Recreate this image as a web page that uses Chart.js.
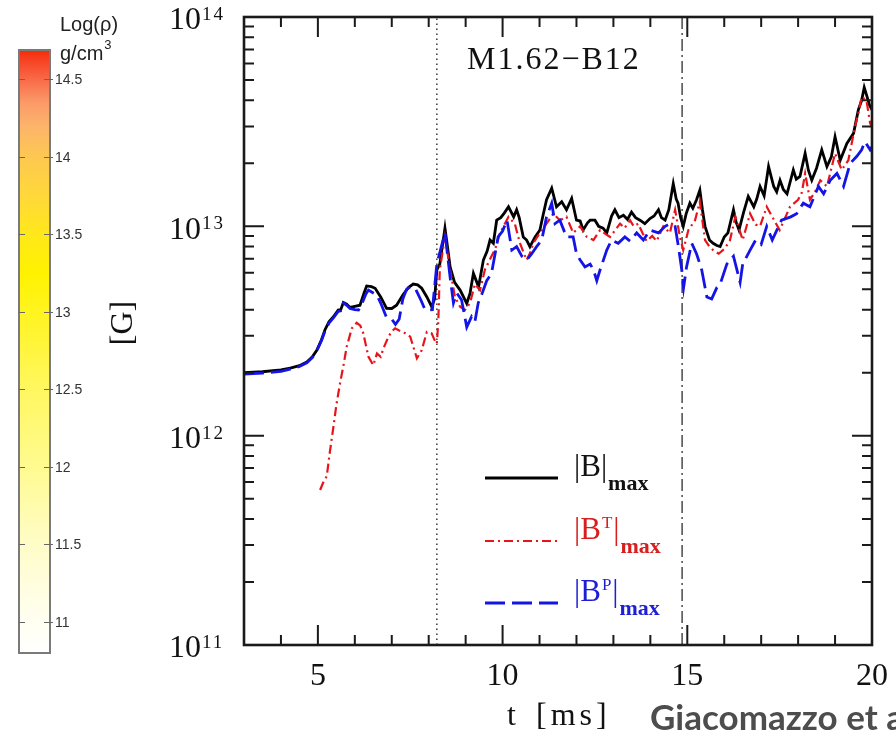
<!DOCTYPE html>
<html>
<head>
<meta charset="utf-8">
<title>M1.62-B12 magnetic field</title>
<script src="https://cdn.jsdelivr.net/npm/chart.js@4.4.1/dist/chart.umd.min.js"></script>
<style>
  html, body { margin: 0; padding: 0; background: #fff; }
  #wrap { position: relative; width: 896px; height: 746px; overflow: hidden; background: #fff; }
  #wrap canvas { position: absolute; left: 0; top: 0; }
</style>
</head>
<body>
<div id="wrap">
  <canvas id="fieldChart" width="896" height="746"></canvas>
  <canvas id="densityBar" width="160" height="746"></canvas>
</div>
<script>
// |B|max, time in ms, field in units of 1e12 G
const tB = [3.0, 3.5, 4.0, 4.25, 4.5, 4.7, 4.85, 4.97, 5.1, 5.19, 5.3, 5.42, 5.55, 5.62, 5.69, 5.78, 5.87, 6.0, 6.14, 6.25,
  6.32, 6.45, 6.55, 6.7, 6.86, 7.0, 7.13, 7.3, 7.45, 7.58, 7.7, 7.81, 7.95, 8.08, 8.16, 8.22, 8.3, 8.36, 8.44, 8.5,
  8.58, 8.7, 8.85, 9.03, 9.12, 9.21, 9.35, 9.48, 9.58, 9.66, 9.75, 9.84, 9.95, 10.05, 10.16, 10.3, 10.38, 10.45, 10.56, 10.65,
  10.74, 10.88, 11.01, 11.1, 11.19, 11.33, 11.46, 11.6, 11.73, 11.87, 12.0, 12.1, 12.18, 12.3, 12.37, 12.5, 12.6, 12.72, 12.82, 12.95,
  13.04, 13.15, 13.27, 13.38, 13.49, 13.6, 13.72, 13.85, 13.99, 14.1, 14.22, 14.3, 14.4, 14.5, 14.62, 14.7, 14.75, 14.82, 14.89, 14.97,
  15.07, 15.15, 15.25, 15.34, 15.41, 15.48, 15.6, 15.7, 15.8, 15.89, 16.0, 16.1, 16.25, 16.32, 16.4, 16.52, 16.65, 16.8, 16.88, 16.97,
  17.08, 17.2, 17.34, 17.42, 17.51, 17.6, 17.7, 17.87, 17.95, 18.05, 18.19, 18.28, 18.37, 18.5, 18.64, 18.78, 18.9, 19.0, 19.14, 19.32,
  19.5, 19.63, 19.72, 19.79, 19.86, 19.93, 20.0];
const bTot = [2.0, 2.02, 2.06, 2.1, 2.16, 2.25, 2.38, 2.56, 2.88, 3.2, 3.5, 3.7, 3.98, 4.0, 4.33, 4.25, 4.1, 4.15, 4.2, 4.8,
  5.19, 5.15, 5.06, 4.6, 4.06, 4.05, 4.2, 4.7, 5.1, 5.3, 5.25, 5.06, 4.6, 4.13, 4.5, 6.2, 6.6, 7.8, 9.8, 8.2,
  6.4, 5.4, 4.96, 4.28, 4.8, 5.96, 5.14, 6.9, 7.6, 8.6, 8.3, 10.7, 11.0, 11.6, 12.4, 11.1, 12.0, 11.0, 8.9, 8.6,
  8.0, 8.9, 9.6, 11.4, 13.4, 15.2, 12.4, 13.1, 12.0, 13.6, 10.7, 10.6, 9.6, 10.4, 10.7, 10.7, 10.0, 9.8, 9.3, 11.2,
  12.0, 11.0, 11.3, 10.8, 11.7, 11.0, 10.7, 10.3, 10.9, 11.2, 12.0, 11.0, 10.7, 12.0, 16.0, 13.5, 12.9, 11.0, 10.0, 11.5,
  12.9, 12.2, 13.4, 14.9, 12.0, 10.0, 8.6, 8.3, 8.1, 8.0, 8.9, 9.3, 12.0, 10.5, 9.6, 11.6, 13.9, 12.4, 13.5, 15.5,
  14.0, 19.3, 15.5, 14.6, 16.6, 15.0, 14.3, 18.6, 16.8, 17.3, 22.3, 18.5, 16.6, 19.0, 23.2, 19.3, 21.5, 26.8, 20.7, 24.9,
  27.8, 36, 40, 46.1, 42, 38, 36];

// |B^T|max (toroidal)
const tBT = [5.06, 5.15, 5.24, 5.33, 5.42, 5.5, 5.6, 5.7, 5.78, 5.92, 6.05, 6.15, 6.23, 6.3, 6.37, 6.5, 6.6, 6.7, 6.77, 6.91,
  7.0, 7.09, 7.2, 7.31, 7.5, 7.6, 7.68, 7.81, 7.95, 8.08, 8.18, 8.22, 8.26, 8.3, 8.44, 8.58, 8.71, 8.85, 8.98, 9.12,
  9.25, 9.39, 9.52, 9.7, 9.8, 9.93, 10.05, 10.16, 10.33, 10.47, 10.65, 10.75, 10.83, 11.01, 11.19, 11.37, 11.55, 11.73, 11.91, 12.1,
  12.28, 12.46, 12.64, 12.78, 12.91, 13.05, 13.18, 13.3, 13.45, 13.55, 13.67, 13.8, 13.9, 14.05, 14.17, 14.35, 14.53, 14.67, 14.8, 14.89,
  15.03, 15.21, 15.34, 15.48, 15.6, 15.7, 15.85, 16.0, 16.15, 16.3, 16.5, 16.7, 16.85, 16.97, 17.15, 17.3, 17.5, 17.65, 17.78, 18.0,
  18.1, 18.19, 18.32, 18.45, 18.6, 18.78, 19.0, 19.18, 19.36, 19.54, 19.65, 19.72, 19.85, 19.95, 20.0];
const bTor = [0.55, 0.6, 0.64, 0.85, 1.1, 1.4, 1.78, 2.2, 2.66, 3.26, 3.46, 3.35, 3.08, 2.7, 2.38, 2.17, 2.47, 2.38, 2.6, 2.97,
  3.15, 3.26, 3.18, 3.13, 2.97, 2.6, 2.34, 2.56, 3.13, 3.08, 2.8, 2.75, 3.5, 6.2, 8.9, 6.2, 4.6, 4.13, 3.98, 4.3,
  5.3, 4.96, 6.2, 7.2, 7.8, 9.3, 10.2, 11.1, 10.3, 8.3, 6.9, 7.5, 8.3, 9.3, 10.3, 11.5, 10.7, 11.1, 9.3, 10.0,
  8.9, 8.6, 9.6, 9.2, 8.9, 9.6, 10.3, 9.8, 10.7, 10.0, 10.3, 9.2, 8.5, 9.0, 8.5, 10.0, 9.3, 12.0, 8.9, 7.7,
  9.6, 10.7, 13.1, 8.6, 8.0, 7.7, 7.4, 7.8, 8.5, 11.1, 8.6, 11.5, 10.2, 10.0, 12.4, 11.1, 9.6, 11.0, 12.4, 13.4,
  14.5, 17.9, 13.4, 14.5, 16.6, 15.5, 22.3, 18.6, 20.7, 29.9, 36, 41.6, 40, 31, 30];

// |B^P|max (poloidal)
const tBP = [3.0, 3.5, 4.0, 4.25, 4.5, 4.7, 4.85, 4.97, 5.1, 5.19, 5.3, 5.42, 5.55, 5.62, 5.69, 5.78, 5.87, 6.0, 6.1, 6.2,
  6.3, 6.37, 6.5, 6.6, 6.7, 6.85, 7.0, 7.1, 7.2, 7.3, 7.4, 7.5, 7.65, 7.8, 7.9, 8.0, 8.1, 8.22, 8.3, 8.44,
  8.58, 8.67, 8.76, 8.89, 9.03, 9.16, 9.25, 9.34, 9.45, 9.57, 9.7, 9.88, 10.0, 10.12, 10.25, 10.38, 10.52, 10.65, 10.79, 10.92,
  11.06, 11.19, 11.33, 11.42, 11.55, 11.73, 11.91, 12.0, 12.1, 12.23, 12.37, 12.46, 12.55, 12.64, 12.82, 12.95, 13.13, 13.31, 13.45, 13.63,
  13.81, 13.99, 14.22, 14.4, 14.53, 14.67, 14.76, 14.85, 14.9, 14.98, 15.12, 15.25, 15.39, 15.53, 15.66, 15.8, 15.89, 16.07, 16.25, 16.43,
  16.5, 16.7, 16.85, 17.0, 17.15, 17.3, 17.55, 17.8, 17.96, 18.14, 18.32, 18.55, 18.69, 18.87, 19.05, 19.23, 19.41, 19.59, 19.72, 19.81,
  19.95, 20.0];
const bPol = [1.97, 1.99, 2.03, 2.08, 2.14, 2.23, 2.36, 2.54, 2.85, 3.15, 3.45, 3.65, 3.92, 3.95, 4.3, 4.2, 4.05, 4.0, 3.98, 4.3,
  4.75, 4.96, 4.8, 4.7, 4.3, 3.7, 3.6, 3.4, 3.6, 4.5, 5.0, 5.14, 5.0, 4.4, 4.0, 3.98, 4.0, 6.6, 7.5, 9.3,
  5.7, 4.3, 4.8, 4.45, 3.3, 3.7, 3.5, 4.3, 4.8, 5.5, 5.96, 8.9, 9.5, 10.7, 7.7, 8.0, 7.2, 6.9, 7.4, 8.0,
  8.6, 11.1, 12.9, 10.3, 10.7, 8.9, 8.9, 7.4, 6.9, 6.4, 6.6, 6.2, 5.5, 6.2, 7.7, 8.6, 8.3, 8.9, 8.5, 9.3,
  8.6, 9.6, 9.3, 10.0, 10.3, 10.0, 8.0, 6.2, 5.1, 6.4, 8.3, 7.4, 6.2, 4.6, 4.5, 5.1, 5.3, 6.6, 7.2, 5.4,
  6.6, 7.7, 8.6, 8.2, 10.0, 8.6, 10.7, 11.1, 11.5, 12.9, 12.4, 15.5, 14.3, 16.6, 17.9, 15.5, 20.0, 21.6, 23.2, 25.4,
  23.2, 24];

// vertical markers (ms)
const tMerge = 8.22;
const tCollapse = 14.86;

// axes
const tRange = [3, 20];
const xMajorTicks = [5, 10, 15, 20];
const yDecades = [11, 12, 13, 14];

// density colour bar, log10(rho) in g/cm^3
const rhoMin = 10.8;
const rhoMax = 14.69;
const rhoTicks = [11, 11.5, 12, 12.5, 13, 13.5, 14, 14.5];
const rhoStops = [10.8, 11.0, 11.5, 12.0, 12.5, 13.0, 13.25, 13.5, 13.75, 14.0, 14.2, 14.35, 14.45, 14.55, 14.65, 14.69];
const rhoColors = ['#ffffff', '#fffff2', '#fffcc8', '#fffb90', '#fff760', '#fff420', '#fff200', '#ffe81a', '#ffd83a',
  '#fdc850', '#fcb46a', '#fb9a68', '#f97a55', '#f85a3a', '#f63a1a', '#f52a00'];

const SERIF = '"Liberation Serif", "Times New Roman", serif';
const SANS = '"Liberation Sans", Arial, sans-serif';

function toPoints(ts, vals) {
  return ts.map((t, i) => ({ x: t, y: vals[i] * 1e12 }));
}

function drawLegendRow(ctx, ds, sup, yLine, textColor) {
  ctx.save();
  ctx.strokeStyle = ds.borderColor;
  ctx.lineWidth = ds.borderWidth;
  ctx.setLineDash(ds.borderDash || []);
  ctx.beginPath();
  ctx.moveTo(485, yLine);
  ctx.lineTo(558, yLine);
  ctx.stroke();
  ctx.setLineDash([]);

  ctx.fillStyle = textColor;
  ctx.textAlign = 'left';
  ctx.textBaseline = 'middle';
  const yMid = yLine - 10;
  let xx = 574;
  ctx.font = '31px ' + SERIF;
  ctx.fillText('|B', xx, yMid);
  xx += ctx.measureText('|B').width;
  if (sup) {
    ctx.font = '17px ' + SERIF;
    ctx.fillText(sup, xx + 1, yMid - 7);
    xx += ctx.measureText(sup).width + 2;
    ctx.font = '31px ' + SERIF;
  }
  ctx.fillText('|', xx, yMid);
  xx += ctx.measureText('|').width + 1;
  ctx.font = 'bold 22px ' + SERIF;
  ctx.textBaseline = 'alphabetic';
  ctx.fillText('max', xx, yLine + 12);
  ctx.restore();
}

// frame, inside ticks, labels and legend
const frameAndLabels = {
  id: 'frameAndLabels',
  afterDraw(chart) {
    const { ctx, chartArea: a, scales: { x, y } } = chart;
    ctx.save();

    // tick marks on all four sides
    ctx.strokeStyle = '#1a1a1a';
    ctx.lineWidth = 2;
    ctx.beginPath();
    for (let t = tRange[0]; t <= tRange[1]; t++) {
      const px = x.getPixelForValue(t);
      const len = xMajorTicks.includes(t) ? 20 : 10;
      ctx.moveTo(px, a.bottom); ctx.lineTo(px, a.bottom - len);
      ctx.moveTo(px, a.top); ctx.lineTo(px, a.top + len);
    }
    for (let e = yDecades[0]; e < yDecades[yDecades.length - 1]; e++) {
      for (let m = 1; m <= 9; m++) {
        const py = y.getPixelForValue(m * Math.pow(10, e));
        const len = m === 1 ? 20 : 10;
        ctx.moveTo(a.left, py); ctx.lineTo(a.left + len, py);
        ctx.moveTo(a.right, py); ctx.lineTo(a.right - len, py);
      }
    }
    ctx.stroke();

    ctx.lineWidth = 2.6;
    ctx.strokeRect(a.left, a.top, a.right - a.left, a.bottom - a.top);

    // x tick labels
    ctx.fillStyle = '#111';
    ctx.font = '32px ' + SERIF;
    ctx.textAlign = 'center';
    ctx.textBaseline = 'middle';
    xMajorTicks.forEach(t => ctx.fillText(String(t), x.getPixelForValue(t), a.bottom + 32));

    // y tick labels 10^n
    yDecades.forEach(e => {
      const py = y.getPixelForValue(Math.pow(10, e));
      ctx.font = '32px ' + SERIF;
      ctx.textAlign = 'right';
      ctx.textBaseline = 'middle';
      ctx.fillText('10', 201, py + 4);
      ctx.font = '19px ' + SERIF;
      ctx.textAlign = 'left';
      ctx.textBaseline = 'alphabetic';
      ctx.letterSpacing = '2px';
      ctx.fillText(String(e), 202, py + 3);
      ctx.letterSpacing = '0px';
    });

    // axis titles
    ctx.font = '32px ' + SERIF;
    ctx.textAlign = 'left';
    ctx.textBaseline = 'middle';
    ctx.fillText('t', 507, 717);
    ctx.letterSpacing = '4px';
    ctx.fillText('[ms]', 536, 717);
    ctx.letterSpacing = '0px';

    ctx.save();
    ctx.translate(124, 323);
    ctx.rotate(-Math.PI / 2);
    ctx.textAlign = 'center';
    ctx.fillText('[G]', 0, 0);
    ctx.restore();

    // model name
    ctx.letterSpacing = '2px';
    ctx.textAlign = 'left';
    ctx.fillText('M1.62\u2212B12', 467, 61);
    ctx.letterSpacing = '0px';

    // legend
    const ds = chart.data.datasets;
    drawLegendRow(ctx, ds[0], '', 478, '#111');
    drawLegendRow(ctx, ds[1], 'T', 541, '#d81e1e');
    drawLegendRow(ctx, ds[2], 'P', 603, '#1e1ed8');

    // reference
    ctx.font = 'bold 35px Lato, "Open Sans", sans-serif';
    ctx.fillStyle = '#4d4d4d';
    ctx.textAlign = 'left';
    ctx.textBaseline = 'alphabetic';
    ctx.fillText('Giacomazzo et al.', 650, 730);

    ctx.restore();
  }
};

new Chart(document.getElementById('fieldChart'), {
  type: 'line',
  data: {
    datasets: [{
      label: '|B|max',
      data: toPoints(tB, bTot),
      borderColor: '#000000',
      borderWidth: 2.8,
      order: 3
    }, {
      label: '|B^T|max',
      data: toPoints(tBT, bTor),
      borderColor: '#e8141a',
      borderWidth: 2.2,
      borderDash: [9, 4, 2, 4],
      order: 2
    }, {
      label: '|B^P|max',
      data: toPoints(tBP, bPol),
      borderColor: '#1414e6',
      borderWidth: 2.8,
      borderDash: [20, 7],
      order: 1
    }, {
      label: 'merger',
      data: [{ x: tMerge, y: 1e11 }, { x: tMerge, y: 1e14 }],
      borderColor: '#444',
      borderWidth: 1.6,
      borderDash: [1.5, 3.5],
      order: 5
    }, {
      label: 'collapse',
      data: [{ x: tCollapse, y: 1e11 }, { x: tCollapse, y: 1e14 }],
      borderColor: '#555',
      borderWidth: 1.6,
      borderDash: [12, 4, 2, 4],
      order: 4
    }]
  },
  options: {
    responsive: false,
    animation: false,
    events: [],
    layout: { padding: { left: 244, top: 17, right: 24, bottom: 101 } },
    elements: { point: { radius: 0 }, line: { tension: 0, fill: false } },
    plugins: { legend: { display: false }, tooltip: { enabled: false } },
    scales: {
      x: { type: 'linear', min: tRange[0], max: tRange[1], display: false },
      y: { type: 'logarithmic', min: 1e11, max: 1e14, display: false }
    }
  },
  plugins: [frameAndLabels]
});

// colour bar
function densityGradient(chart) {
  const y = chart.scales.y;
  if (!chart.chartArea || !y) return '#ffffff';
  const g = chart.ctx.createLinearGradient(0, y.getPixelForValue(rhoMin), 0, y.getPixelForValue(rhoMax));
  rhoStops.forEach((v, i) => g.addColorStop((v - rhoMin) / (rhoMax - rhoMin), rhoColors[i]));
  return g;
}

const densityAxis = {
  id: 'densityAxis',
  afterDraw(chart) {
    const { ctx, chartArea: a, scales: { y } } = chart;
    ctx.save();
    ctx.strokeStyle = '#7a7a7a';
    ctx.lineWidth = 2;
    ctx.strokeRect(a.left, a.top, a.right - a.left, a.bottom - a.top);

    ctx.strokeStyle = '#666';
    ctx.lineWidth = 1.2;
    ctx.fillStyle = '#333';
    ctx.font = '14px ' + SANS;
    ctx.textAlign = 'left';
    ctx.textBaseline = 'middle';
    rhoTicks.forEach(v => {
      const py = Math.round(y.getPixelForValue(v)) + 0.5;
      ctx.beginPath();
      ctx.moveTo(a.left, py); ctx.lineTo(a.left + 6, py);
      ctx.moveTo(a.right - 6, py); ctx.lineTo(a.right + 3, py);
      ctx.stroke();
      ctx.fillText(String(v), a.right + 5, py + 1);
    });

    ctx.fillStyle = '#222';
    ctx.font = '20px ' + SANS;
    ctx.textBaseline = 'alphabetic';
    ctx.fillText('Log(\u03c1)', 60, 31);
    ctx.fillText('g/cm', 60, 60);
    const w = ctx.measureText('g/cm').width;
    ctx.font = '13px ' + SANS;
    ctx.fillText('3', 61 + w, 49);
    ctx.restore();
  }
};

new Chart(document.getElementById('densityBar'), {
  type: 'bar',
  data: {
    labels: [''],
    datasets: [{
      data: [[rhoMin, rhoMax]],
      backgroundColor: c => densityGradient(c.chart),
      borderWidth: 0,
      barPercentage: 1,
      categoryPercentage: 1
    }]
  },
  options: {
    responsive: false,
    animation: false,
    events: [],
    layout: { padding: { left: 19, right: 110, top: 50, bottom: 93 } },
    plugins: { legend: { display: false }, tooltip: { enabled: false } },
    scales: {
      x: { display: false },
      y: { display: false, min: rhoMin, max: rhoMax }
    }
  },
  plugins: [densityAxis]
});
</script>
</body>
</html>
